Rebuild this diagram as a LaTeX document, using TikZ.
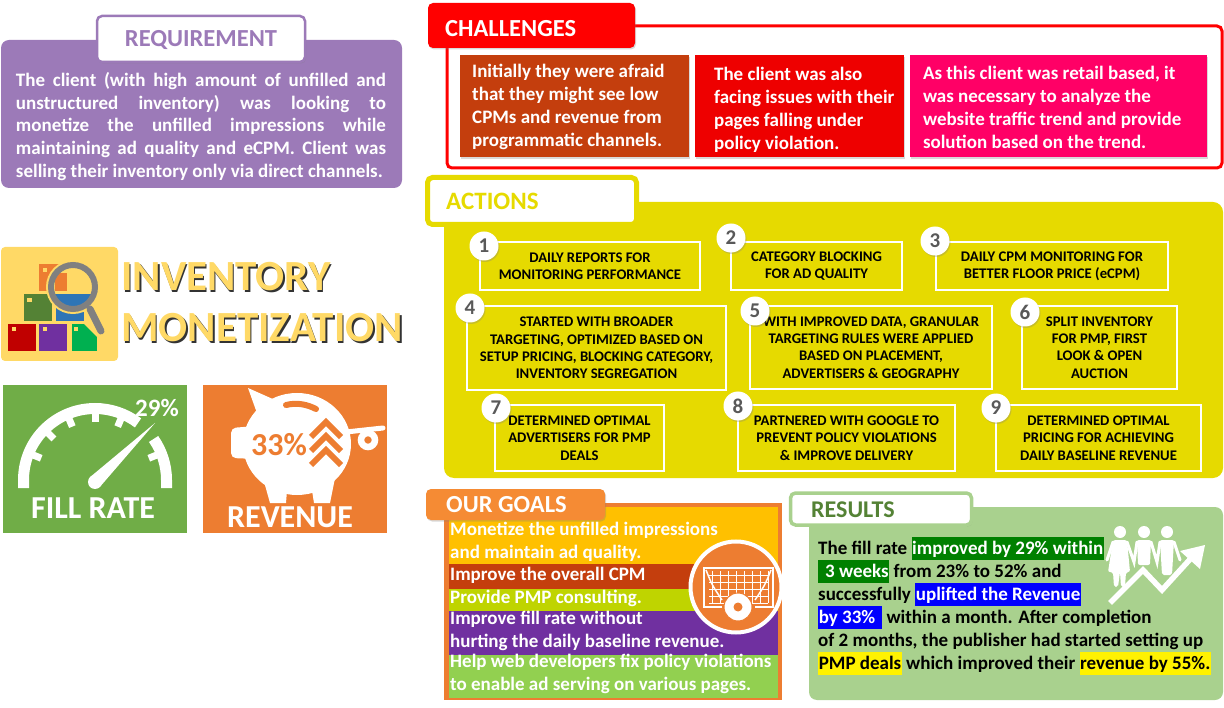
\documentclass[tikz,border=0pt]{standalone}
\usepackage{fontspec}
\setmainfont{Carlito}
\usetikzlibrary{positioning,shadows}
\definecolor{reqpurple}{HTML}{9C7AB8}
\definecolor{chalbrown}{HTML}{C43E0D}
\definecolor{chalred}{HTML}{EE0000}
\definecolor{chalpink}{HTML}{FF0066}
\definecolor{actyellow}{HTML}{E6DA00}
\definecolor{goalorange}{HTML}{ED7D31}
\definecolor{headorange}{HTML}{F58B34}
\definecolor{goalamber}{HTML}{FFC000}
\definecolor{goallime}{HTML}{BFD400}
\definecolor{goalpurple}{HTML}{7030A0}
\definecolor{goalgreen}{HTML}{92D050}
\definecolor{tabyellow}{HTML}{FFD966}
\definecolor{resgreen}{HTML}{A9D18E}
\definecolor{resdark}{HTML}{548235}
\definecolor{fillgreen}{HTML}{70AD47}
\definecolor{crateblue}{HTML}{2E75B6}
\definecolor{cratered}{HTML}{C00000}
\definecolor{crategreen}{HTML}{00B050}
\newcommand\hlbox[2]{{\setlength{\fboxsep}{0pt}\colorbox{#1}{\rule[-6pt]{0pt}{23pt}\kern.6pt#2\kern.6pt}}}
\newcommand\softshadow[1]{\rlap{\hspace{1.5pt}\raisebox{-2pt}{\color{black!80}#1}}#1}
\newcommand\jline[1]{\makebox[370pt][s]{#1}}
\tikzset{
  softdrop/.style={drop shadow={opacity=.3,shadow xshift=1pt,shadow yshift=-1.5pt}},
  headbox/.style={rounded corners=5pt,softdrop,minimum height=#1,inner sep=0pt,
    font=\bfseries\fontsize{24.5}{28}\selectfont},
  chalbox/.style={softdrop,minimum height=102pt,inner sep=0pt},
  chaltext/.style={text=white,inner sep=0pt,align=left,font=\bfseries\fontsize{19}{23}\selectfont},
  stepbox/.style={draw=white,line width=1.1pt,inner sep=0pt,align=center,
    font=\bfseries\fontsize{14.7}{17.3}\selectfont},
  badge/.style={circle,fill=white,minimum size=29pt,inner sep=0pt,text=black!65,softdrop,
    font=\bfseries\fontsize{21}{24}\selectfont},
  goalbar/.style={minimum width=329pt,inner sep=0pt,anchor=north west},
  goaltext/.style={text=white,inner sep=0pt,align=left,font=\bfseries\fontsize{19}{23}\selectfont},
  tiletext/.style={text=white,inner sep=0pt,font=\bfseries\fontsize{#1}{#1}\selectfont},
  crate/.style={fill=#1,inner sep=0pt,minimum width=28pt,minimum height=27pt},
  cratedot/.style={fill=tabyellow,inner sep=0pt,minimum size=4.5pt}
}
\begin{document}
\begin{tikzpicture}[x=1pt,y=-1pt]
\useasboundingbox (0,0) rectangle (1224,708);
% requirement
\node[fill=reqpurple,rounded corners=8pt,minimum width=401pt,minimum height=148pt,inner sep=0pt](reqpanel) at (201.5,114){};
\node[headbox=46pt,draw=reqpurple,line width=2.5pt,fill=white,minimum width=208pt,text=reqpurple,text height=15.5pt,text depth=0pt](reqhead) at (201,39){REQUIREMENT};
\node[text=white,align=left,inner sep=0pt,font=\bfseries\fontsize{19}{22.8}\selectfont](reqtext) at (201,126.5)
  {\jline{The client (with high amount of unfilled and}\\
   \jline{unstructured inventory) was looking to}\\
   \jline{monetize the unfilled impressions while}\\
   \jline{maintaining ad quality and eCPM. Client was}\\
   selling their inventory only via direct channels.};
% inventory icon
\node[fill=tabyellow,rounded corners=4pt,minimum width=117pt,minimum height=114pt,inner sep=0pt](invtile) at (59.5,304){};
\fill[goalorange] (39,264) -- (59,264) -- (59,291) -- (39,291) -- cycle;
\node[crate=cratered](cratea) at (22,337.5){};
\node[crate=goalpurple,right=3pt of cratea](crateb){};
\node[crate=crategreen,right=4pt of crateb,minimum width=25.5pt](cratec){};
\fill[tabyellow] (97,323) -- (83,323) -- (97,337) -- cycle;
\node[crate=resdark,above=3pt of cratea.north east,anchor=south,xshift=2pt](crated){};
\node[crate=crateblue,right=3pt of crated](cratee){};
\node[cratedot] (dota) at (14,329){};
\node[cratedot] (dotb) at (45,329){};
\node[cratedot] (dotc) at (76,329){};
\node[cratedot] (dotd) at (29.5,300){};
\node[cratedot] (dote) at (45,270){};
\draw[tabyellow,line width=3pt] (73,287) circle (25.5pt);
\fill[tabyellow] (73,287) circle (22pt);
\begin{scope}
  \clip (73,287) circle (22pt);
  \fill[goalorange] (55,273) -- (67,273) -- (67,291) -- (55,291) -- cycle;
  \fill[crateblue] (55,294) rectangle (95,321);
\end{scope}
\draw[gray,line width=6pt] (73,287) circle (22pt);
\draw[gray,line width=7pt,line cap=round] (90,309) -- (101,331);
\node[inner sep=0pt,anchor=west,text=tabyellow,font=\bfseries\fontsize{43}{46}\selectfont](invtitle) at (121,278){\softshadow{INVENTORY}};
\node[inner sep=0pt,anchor=west,text=tabyellow,font=\bfseries\fontsize{43}{46}\selectfont](montitle) at (121,329){\softshadow{MONETIZATION}};
% fill rate tile
\node[fill=fillgreen,minimum width=184pt,minimum height=148pt,inner sep=0pt](filltile) at (95,459){};
\begin{scope}[shift={(95,480)}]
  \draw[white,line width=11pt] (-71.5pt,-8pt) -- (180:71.5pt) arc[start angle=180,end angle=53,radius=71.5pt];
  \draw[white,line width=11pt] (35:71.5pt) arc[start angle=35,end angle=0,radius=71.5pt] -- (71.5pt,-8pt);
  \foreach \a in {158,135,113,90,67,22} \draw[white,line width=7pt] (\a:68pt) -- (\a:58pt);
  \fill[white] (0pt,-2pt) circle (7pt);
  \fill[white] (-4.8pt,3pt) -- (60pt,57pt) -- (4.8pt,-7pt) -- cycle;
\end{scope}
\node[tiletext=25](fillpct) at (157,408){29\%};
\node[tiletext=32](filllabel) at (93,508){FILL RATE};
% revenue tile
\node[fill=goalorange,minimum width=184pt,minimum height=148pt,inner sep=0pt](revtile) at (295,459){};
\fill[white] (297,444) ellipse (54pt and 51pt);
\fill[white,rounded corners=5pt] (231,428) -- (256,426) -- (256,459) -- (231,458) -- cycle;
\fill[white] (248,388) -- (275,400) -- (258,416) -- cycle;
\fill[white] (263,478) -- (288,478) -- (286,503) -- (270,503) -- cycle;
\fill[white] (310,478) -- (335,478) -- (330,503) -- (314,503) -- cycle;
\draw[goalorange,line width=6pt,line cap=round] (286,405) .. controls (298,402) and (308,405) .. (316,409);
\draw[white,line width=5pt,line cap=round] (346,432) -- (383,428);
\draw[white,line width=6.5pt] (368,440) circle (7pt);
\foreach \y in {422,436,450} \draw[goalorange,line width=6pt] (311,\y+15) -- (326,\y) -- (341,\y+15);
\node[tiletext=32,text=goalorange](revpct) at (279,445){33\%};
\node[tiletext=32](revlabel) at (290,517){REVENUE};
% challenges
\draw[red,line width=3pt,rounded corners=5pt] (447,26) rectangle (1222,168);
\node[headbox=45pt,fill=red,minimum width=207pt,text=white](chalhead) at (531.5,25.5){};
\node[text=white,inner sep=0pt,anchor=west,font=\bfseries\fontsize{24.5}{28}\selectfont](chaltitle) at (445,29){CHALLENGES};
\node[chalbox,fill=chalbrown,minimum width=229pt,anchor=north west](chala) at (460,55){};
\node[chalbox,fill=chalred,minimum width=209pt,right=5.5pt of chala](chalb){};
\node[chalbox,fill=chalpink,minimum width=297pt,right=5.5pt of chalb](chalc){};
\node[chaltext,right=12pt of chala.west,yshift=-1pt](chatxa){Initially they were afraid\\that they might see low\\CPMs and revenue from\\programmatic channels.};
\node[chaltext,right=19pt of chalb.west,yshift=-4pt](chatxb){The client was also\\facing issues with their\\pages falling under\\policy violation.};
\node[chaltext,right=13pt of chalc.west,yshift=-1pt](chatxc){As this client was retail based, it\\was necessary to analyze the\\website traffic trend and provide\\solution based on the trend.};
% actions
\node[fill=actyellow,rounded corners=10pt,minimum width=779pt,minimum height=276pt,inner sep=0pt](actpanel) at (833.5,340){};
\node[headbox=47pt,draw=actyellow,line width=5pt,fill=white,minimum width=209pt](acthead) at (532,201){};
\node[text=actyellow,inner sep=0pt,anchor=west,font=\bfseries\fontsize{25}{28}\selectfont](acttext) at (446,201){ACTIONS};
\node[stepbox,minimum width=220pt,minimum height=48pt](stepa) at (590,266){DAILY REPORTS FOR\\MONITORING PERFORMANCE};
\node[stepbox,minimum width=171pt,minimum height=48pt](stepb) at (816.5,266){CATEGORY BLOCKING\\FOR AD QUALITY};
\node[stepbox,minimum width=232pt,minimum height=48pt](stepc) at (1052,266){DAILY CPM MONITORING FOR\\BETTER FLOOR PRICE (eCPM)};
\node[stepbox,minimum width=259pt,minimum height=84pt](stepd) at (596.5,348){STARTED WITH BROADER\\TARGETING, OPTIMIZED BASED ON\\SETUP PRICING, BLOCKING CATEGORY,\\INVENTORY SEGREGATION};
\node[stepbox,minimum width=242pt,minimum height=83pt](stepe) at (871,347.5){WITH IMPROVED DATA, GRANULAR\\TARGETING RULES WERE APPLIED\\BASED ON PLACEMENT,\\ADVERTISERS \& GEOGRAPHY};
\node[stepbox,minimum width=155pt,minimum height=83pt](stepf) at (1099.5,347.5){SPLIT INVENTORY\\FOR PMP, FIRST\\LOOK \& OPEN\\AUCTION};
\node[stepbox,minimum width=169pt,minimum height=66pt](stepg) at (579.5,438){DETERMINED OPTIMAL\\ADVERTISERS FOR PMP\\DEALS};
\node[stepbox,minimum width=217pt,minimum height=66pt](steph) at (846.5,438){PARTNERED WITH GOOGLE TO\\PREVENT POLICY VIOLATIONS\\\& IMPROVE DELIVERY};
\node[stepbox,minimum width=205pt,minimum height=66pt](stepi) at (1098.5,438){DETERMINED OPTIMAL\\PRICING FOR ACHIEVING\\DAILY BASELINE REVENUE};
\node[badge](numa) at (484,246){1};
\node[badge](numb) at (731,238){2};
\node[badge](numc) at (935,241){3};
\node[badge](numd) at (470,308){4};
\node[badge](nume) at (755,311){5};
\node[badge](numf) at (1025,312){6};
\node[badge](numg) at (496,408){7};
\node[badge](numh) at (738,406){8};
\node[badge](numi) at (996,408){9};
% our goals
\node[fill=goalorange,minimum width=338pt,minimum height=197pt,inner sep=0pt,anchor=north west](goalframe) at (444,503){};
\node[goalbar,fill=goalamber,minimum height=56.3pt](goala) at (449,507){};
\node[goalbar,fill=chalbrown,minimum height=25.3pt,below=-.3pt of goala.south west,anchor=north west](goalb){};
\node[goalbar,fill=goallime,minimum height=22.3pt,below=-.3pt of goalb.south west,anchor=north west](goalc){};
\node[goalbar,fill=goalpurple,minimum height=43.3pt,below=-.3pt of goalc.south west,anchor=north west](goald){};
\node[goalbar,fill=goalgreen,minimum height=43pt,below=-.3pt of goald.south west,anchor=north west](goale){};
\node[goaltext,anchor=west](gotxa) at (450,541.5){Monetize the unfilled impressions\\and maintain ad quality.};
\node[goaltext,anchor=west](gotxb) at (450,575){Improve the overall CPM};
\node[goaltext,anchor=west](gotxc) at (450,598){Provide PMP consulting.};
\node[goaltext,anchor=west](gotxd) at (450,630.5){Improve fill rate without\\hurting the daily baseline revenue.};
\node[goaltext,anchor=west](gotxe) at (450,673.5){Help web developers fix policy violations\\to enable ad serving on various pages.};
\node[headbox=31pt,fill=headorange,minimum width=179pt](goalhead) at (515.5,504.5){};
\node[text=white,inner sep=0pt,anchor=west,font=\bfseries\fontsize{24.5}{28}\selectfont](goaltitle) at (446,505){OUR GOALS};
\node[circle,fill=goalorange,draw=white,line width=4pt,minimum size=91pt,inner sep=0pt](goalring) at (736,587){};
\foreach \x in {712,720,...,768} \draw[white,line width=.6pt] (\x,571) -- (\x,603);
\foreach \y in {575,582,...,603} \draw[white,line width=.6pt] (709,\y) -- (768,\y);
\draw[white,line width=2.5pt] (722,607) -- (704,607) -- (704,568) -- (773,568) -- (773,607) -- (755,607);
\draw[white,line width=1.5pt] (706,570) .. controls (712,585) .. (722,600);
\draw[white,line width=1.5pt] (771,570) .. controls (765,585) .. (755,600);
\node[circle,fill=white,draw=goalorange,line width=1pt,minimum size=28pt,inner sep=0pt](goalball) at (738,607){};
\node[circle,fill=goalorange,minimum size=9pt,inner sep=0pt](goalspot) at (738,607){};
% results
\node[fill=resgreen,rounded corners=8pt,minimum width=414pt,minimum height=193pt,inner sep=0pt](respanel) at (1016,603.5){};
\node[headbox=32pt,draw=resgreen,line width=3.5pt,fill=white,minimum width=181pt](reshead) at (881,509){};
\node[text=resdark,inner sep=0pt,anchor=west,font=\bfseries\fontsize{24}{28}\selectfont](restitle) at (811,510){RESULTS};
\node[inner sep=0pt,anchor=north west,align=left,font=\bfseries\fontsize{19}{23}\selectfont](resbody) at (818,537)
  {The fill rate \hlbox{green!50!black}{\color{white}improved by 29\% within}\\
   \hlbox{green!50!black}{\color{white}\,\,3 weeks} from 23\% to 52\% and\\
   successfully \hlbox{blue}{\color{white}uplifted the Revenue}\\
   \hlbox{blue}{\color{white}by 33\%\,\,} within a month. After completion\\
   of 2 months, the publisher had started setting up\\
   \hlbox{yellow}{PMP deals} which improved their \hlbox{yellow}{revenue by 55\%.}};
\foreach \x in {1120,1144,1167} \fill[white] (\x,532) circle (6pt);
\fill[white,rounded corners=2pt] (1113,540) -- (1127,540) -- (1130,572) -- (1126,572) -- (1125,587) -- (1121,587) -- (1120,572) -- (1118,587) -- (1114,587) -- (1113,572) -- (1108,572) -- cycle;
\fill[white,rounded corners=2pt] (1137,540) -- (1151,540) -- (1150,565) -- (1138,565) -- cycle;
\fill[white,rounded corners=2pt] (1160,540) -- (1174,540) -- (1172,575) -- (1166,575) -- (1162,575) -- cycle;
\draw[white,line width=3pt,line cap=round] (1113,542) -- (1107,560);
\draw[white,line width=3pt,line cap=round] (1127,542) -- (1134,562) -- (1137,542);
\draw[white,line width=3pt,line cap=round] (1151,542) -- (1157,562) -- (1160,542);
\draw[white,line width=3pt,line cap=round] (1174,542) -- (1180,560);
\draw[white,line width=5.5pt] (1110,603) -- (1143,570) -- (1162,590) -- (1193,556);
\fill[white] (1205,545) -- (1180,551) -- (1200,569) -- cycle;
\end{tikzpicture}
\end{document}
